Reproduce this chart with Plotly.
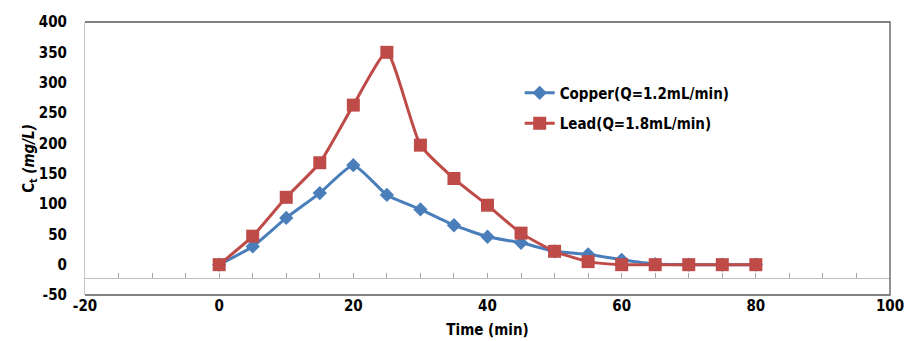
import plotly.graph_objects as go

time_min = [0, 5, 10, 15, 20, 25, 30, 35, 40, 45, 50, 55, 60, 65, 70, 75, 80]
copper = [0, 30, 77, 118, 164, 115, 91, 65, 46, 36, 22, 17, 8, 1, 0, 0, 0]
lead = [0, 47, 111, 168, 263, 350, 197, 142, 98, 52, 22, 5, 0, 0, 0, 0, 0]
x_ticks = [-20, 0, 20, 40, 60, 80, 100]
y_ticks = [-50, 0, 50, 100, 150, 200, 250, 300, 350, 400]

FONT = "Liberation Sans Narrow, DejaVu Sans Condensed, Arial Narrow, sans-serif"
BLUE = "#4A7EBB"
RED = "#BE4B48"

fig = go.Figure()
fig.add_trace(go.Scatter(
    x=time_min, y=copper, name="Copper(Q=1.2mL/min)", legendgroup="a",
    mode="lines+markers", line=dict(color=BLUE, width=3, shape="spline", smoothing=0.5),
    marker=dict(symbol="diamond", size=11, color=BLUE)))
fig.add_trace(go.Scatter(
    x=time_min, y=lead, name="Lead(Q=1.8mL/min)", legendgroup="b",
    mode="lines+markers", line=dict(color=RED, width=3, shape="spline", smoothing=0.5),
    marker=dict(symbol="square", size=13, color=RED)))
# carrier for the crossing horizontal axis with minor ticks
fig.add_trace(go.Scatter(x=[None], y=[None], xaxis="x2", showlegend=False, hoverinfo="skip"))

bold = dict(family=FONT, size=15, color="black", weight="bold")

fig.update_layout(
    width=910, height=341,
    margin=dict(l=85, r=20, t=22, b=46, autoexpand=False),
    paper_bgcolor="white", plot_bgcolor="white",
    font=bold,
    showlegend=True,
    legend=dict(x=0.54, y=0.80, xanchor="left", yanchor="top",
                font=dict(family=FONT, size=15, color="black", weight="bold"),
                bgcolor="rgba(0,0,0,0)", tracegroupgap=8, itemwidth=30),
    xaxis=dict(range=[-20, 100], tickvals=x_ticks, ticktext=[str(v) for v in x_ticks],
               showgrid=False, zeroline=False, showline=False, ticks="", automargin=False,
               tickfont=bold,
               title=dict(text="Time (min)", font=bold, standoff=10)),
    xaxis2=dict(range=[-20, 100], overlaying="x", anchor="free", position=0.062,
                dtick=5, tick0=0, ticks="inside", ticklen=5, tickcolor="#A6A6A6",
                showticklabels=False, showgrid=False, zeroline=False, automargin=False,
                showline=True, linecolor="#BFBFBF", linewidth=1),
    yaxis=dict(range=[-50, 400], tickvals=y_ticks, ticktext=[str(v) for v in y_ticks],
               showgrid=False, zeroline=False, showline=True, linecolor="#C8C8C8",
               linewidth=1, ticks="", ticklabelstandoff=14, automargin=False,
               tickfont=bold,
               title=dict(text="C<sub>t</sub> <i>(mg/L)</i>", font=bold, standoff=0)),
    shapes=[dict(type="path", xref="paper", yref="paper",
                 path="M 0,1 L 1,1 L 1,0 L 0,0", line=dict(color="#595959", width=1.3))],
)

fig.write_html("out.html", config={"displayModeBar": False},
               post_script="document.body.style.margin='0';document.body.style.overflow='hidden';")
